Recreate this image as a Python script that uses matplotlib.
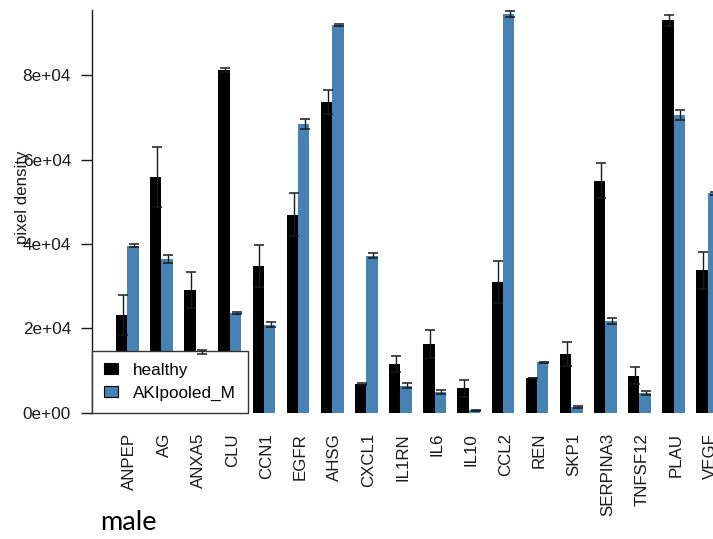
import numpy as np
import matplotlib
matplotlib.use('Agg')
import matplotlib.pyplot as plt
import matplotlib.transforms as mtransforms
from matplotlib.patches import Patch

# ── Data: mean pixel density and standard error per gene ─────────────────────
genes = ['ANPEP', 'AG', 'ANXA5', 'CLU', 'CCN1', 'EGFR', 'AHSG', 'CXCL1', 'IL1RN',
         'IL6', 'IL10', 'CCL2', 'REN', 'SKP1', 'SERPINA3', 'TNFSF12', 'PLAU', 'VEGF']
healthy = [23200, 55800, 29000, 81300, 34700, 46900, 73700, 6800, 11600,
           16300, 5800, 30900, 8200, 13900, 55000, 8800, 93000, 33700]
healthy_se = [4700, 7100, 4300, 500, 5000, 5100, 2800, 300, 1900,
              3300, 2000, 5000, 0, 2800, 4100, 2000, 1300, 4400]
aki = [39600, 36400, 14400, 23700, 20900, 68400, 91900, 37200, 6400,
       4900, 600, 94400, 11900, 1400, 21800, 4700, 70500, 52000]
aki_se = [300, 1000, 450, 200, 500, 1200, 200, 600, 650,
          550, 100, 700, 200, 200, 750, 500, 1200, 300]
series_names = ['healthy', 'AKIpooled_M']
yticks = [0, 20000, 40000, 60000, 80000]
ytick_labels = ['0e+00', '2e+04', '4e+04', '6e+04', '8e+04']

BLACK = '#000000'
BLUE = '#4682B4'
FONT = 'Liberation Sans'

# barplot(beside=TRUE) layout: bars of width 1, one unit gap between groups
groups = np.arange(len(genes))
x_healthy = 3 * groups + 1.5
x_aki = 3 * groups + 2.5
x_center = 3 * groups + 2

fig = plt.figure(figsize=(7.13, 5.39), dpi=100)
ax = fig.add_axes([92.3 / 713, 126.3 / 539, 1 - 92.3 / 713, 412.7 / 539])

ax.bar(x_healthy, healthy, width=1.0, color=BLACK, linewidth=0, zorder=2)
ax.bar(x_aki, aki, width=1.0, color=BLUE, linewidth=0, zorder=2)

err_kw = dict(fmt='none', ecolor='#1a1a1a', elinewidth=1.0, capsize=3.8,
              capthick=1.1, zorder=6)
ax.errorbar(x_healthy + 0.1, healthy, yerr=healthy_se, **err_kw)
ax.errorbar(x_aki + 0.1, aki, yerr=aki_se, **err_kw)

ax.set_xlim(-1.08, 53.46)
ax.set_ylim(0, 97800)

for side in ('top', 'right', 'bottom'):
    ax.spines[side].set_visible(False)
ax.spines['left'].set_bounds(0, 95400)
ax.spines['left'].set_linewidth(1.0)
ax.spines['left'].set_color('#1a1a1a')

ax.set_yticks(yticks)
ax.set_yticklabels(ytick_labels, fontfamily=FONT, fontsize=12.3, color='#1a1a1a')
ax.tick_params(axis='y', length=7.6, width=1.0, pad=7.7, color='#1a1a1a')

ax.set_xticks(x_center)
ax.set_xticklabels(genes, rotation=90, fontfamily=FONT, fontsize=12.2,
                   color='#1a1a1a', va='top', ha='center')
ax.tick_params(axis='x', length=0, pad=14.6)
shift = mtransforms.ScaledTranslation(2.5 / 100, 0, fig.dpi_scale_trans)
for lbl in ax.get_xticklabels():
    lbl.set_transform(lbl.get_transform() + shift)

fig.text(23 / 713, 1 - 197 / 539, 'pixel density', rotation=90,
         ha='center', va='center', fontfamily=FONT, fontsize=12.2, color='#1a1a1a')

handles = [Patch(facecolor=BLACK, edgecolor='black', linewidth=0.8),
           Patch(facecolor=BLUE, edgecolor='black', linewidth=0.8)]
leg = ax.legend(handles, series_names, loc='lower left', bbox_to_anchor=(0, 0),
                borderaxespad=0, fancybox=False, framealpha=1,
                prop={'family': FONT, 'size': 12.3},
                handlelength=0.82, handleheight=0.6, handletextpad=0.85,
                borderpad=0.7, labelspacing=0.45)
leg.get_frame().set_edgecolor('#333333')
leg.get_frame().set_linewidth(1.0)

fig.text(100 / 713, 1 - 522 / 539, 'male', ha='left', va='center',
         fontfamily='Lato', fontsize=19.5, color='black')

fig.savefig('out.png', dpi=100)
